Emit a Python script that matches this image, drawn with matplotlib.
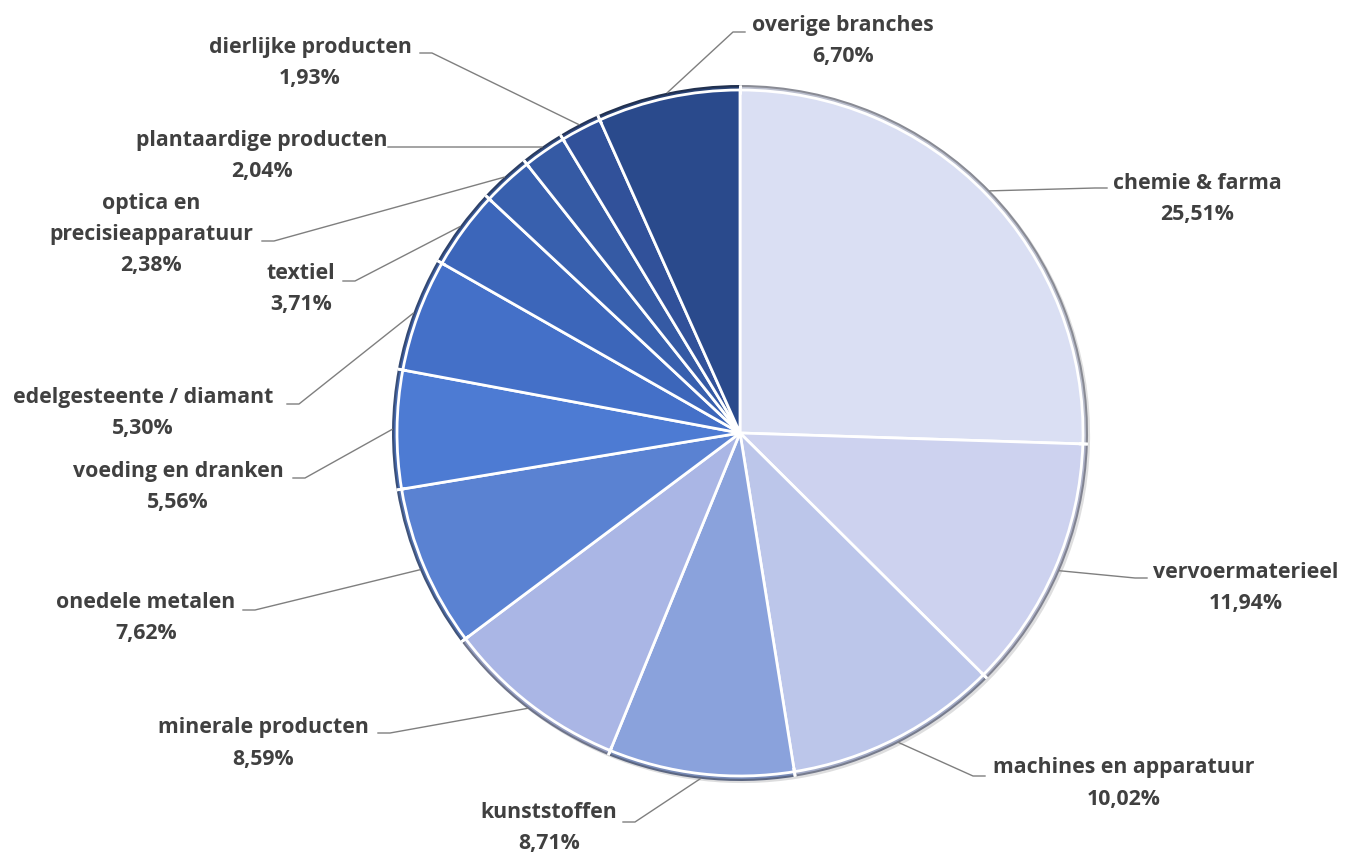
import numpy as np
import matplotlib.pyplot as plt
import matplotlib.colors as mcolors
import matplotlib.patheffects as pe

#%% data
labels = ["chemie & farma", "vervoermaterieel", "machines en apparatuur", "kunststoffen",
          "minerale producten", "onedele metalen", "voeding en dranken",
          "edelgesteente / diamant", "textiel", "optica en\nprecisieapparatuur",
          "plantaardige producten", "dierlijke producten", "overige branches"]
shares = [25.51, 11.94, 10.02, 8.71, 8.59, 7.62, 5.56, 5.30, 3.71, 2.38, 2.04, 1.93, 6.70]
colors = ["#DADFF3", "#CDD2EF", "#BCC6EA", "#8AA2DC", "#AAB6E5", "#5A82D2", "#4D7BD3",
          "#4470C8", "#3C66BA", "#3860AE", "#355AA4", "#31519A", "#2A4A8C"]

#%% layout (pixel coords, y measured from top)
W, H = 1352, 857
cx, cy, R = 740, 433, 348
# label block: centre x, first line y ; leader end point
txt_x = [1197, 1246, 1124, 549, 263, 146, 178, 143, 301, 151, 262, 310, 843]
txt_y = [183, 572, 768, 813, 728, 603, 471, 397, 273, 203, 140, 47, 25]
end_x = [1107, 1147, 985, 623, 378, 243, 293, 287, 343, 262, 388, 420, 745]
end_y = [188, 578, 776, 822, 733, 610, 478, 404, 281, 241, 147, 53, 32]
explode = [0.016] + [0] * 12

fig = plt.figure(figsize=(W / 100, H / 100), dpi=100)
ax = fig.add_axes([0, 0, 1, 1])

def shade(c, f, grey=0.25):
    rgb = np.array(mcolors.to_rgb(c)) * f
    g = rgb.mean()
    return tuple(rgb * (1 - grey) + g * grey)

#%% layered pies give a bevelled rim
rim1 = [shade(c, 0.62) for c in colors]
rim2 = [shade(c, 0.85, 0.1) for c in colors]
pie_kw = dict(startangle=90, counterclock=False, explode=explode, center=(cx, H - cy))
wedges, _ = ax.pie(shares, colors=rim1, radius=R,
                   wedgeprops=dict(edgecolor="none", linewidth=0), **pie_kw)
for w in wedges:
    w.set_path_effects([pe.SimplePatchShadow(offset=(1.5, -1.5), alpha=0.15), pe.Normal()])
ax.pie(shares, colors=rim2, radius=R - 2, wedgeprops=dict(linewidth=0), **pie_kw)
ax.pie(shares, colors=colors, radius=R - 5,
       wedgeprops=dict(edgecolor="white", linewidth=2), **pie_kw)

# white separators through the rim
for w in wedges:
    for th in (w.theta1, w.theta2):
        t = np.deg2rad(th)
        ax.plot([w.center[0] + (R - 9) * np.cos(t), w.center[0] + R * np.cos(t)],
                [w.center[1] + (R - 9) * np.sin(t), w.center[1] + R * np.sin(t)],
                color="white", lw=2, solid_capstyle="butt")

#%% labels with leader lines
font = dict(family=["Open Sans", "DejaVu Sans"], weight="bold", size=15.3, color="#404040")

for i, w in enumerate(wedges):
    mid = np.deg2rad((w.theta1 + w.theta2) / 2)
    sx = w.center[0] + w.r * np.cos(mid)
    sy = w.center[1] + w.r * np.sin(mid)
    ex, ey = end_x[i], H - end_y[i]
    elbow = ex + 12 if ex > txt_x[i] else ex - 12
    ax.plot([sx, elbow, ex], [sy, ey, ey], color="#7f7f7f", lw=1)

    lines = labels[i].split("\n") + [f"{shares[i]:.2f}".replace(".", ",") + "%"]
    for k, s in enumerate(lines):
        ax.text(txt_x[i], H - (txt_y[i] + 31 * k), s, ha="center", va="center", **font)

ax.set_xlim(0, W)
ax.set_ylim(0, H)
ax.set_aspect("equal")
ax.axis("off")
fig.savefig("out.png", dpi=100)
